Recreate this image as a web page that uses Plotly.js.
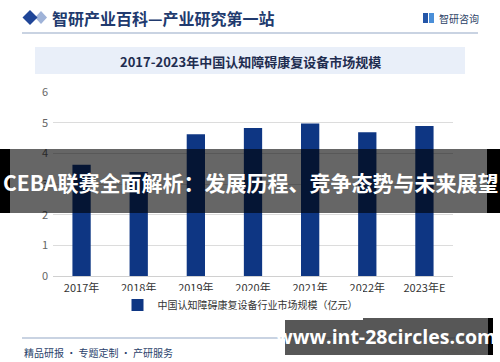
<!DOCTYPE html>
<html>
<head>
<meta charset="utf-8">
<script src="https://cdn.plot.ly/plotly-3.0.1.min.js"></script>
<style>
html,body{margin:0;padding:0;background:#fff;}
#chart{width:500px;height:362px;}
</style>
</head>
<body>
<div id="chart"></div>
<script>
const categories = ["2017年","2018年","2019年","2020年","2021年","2022年","2023年E"];
const marketSize = [3.63, 3.39, 4.62, 4.83, 4.97, 4.69, 4.89];
const seriesName = "中国认知障碍康复设备行业市场规模（亿元）";
const chartTitle = "2017-2023年中国认知障碍康复设备市场规模";
const headerText = "智研产业百科—产业研究第一站";
const logoText = "智研咨询";
const footerText = "精品研报 · 专题定制 · 产研服务";
const bannerText = "CEBA联赛全面解析：发展历程、竞争态势与未来展望";
const overlayText = "www.int-28circles.com";
const siteText = "www.chyxx.com";

const W = 500, H = 362;
const M = {l: 53, r: 47, t: 92, b: 86};
const PW = W - M.l - M.r, PH = H - M.t - M.b;
const px = x => (x - M.l) / PW;
const py = y => (H - M.b - y) / PH;
const CJK = '"Noto Sans CJK SC", "Noto Sans", sans-serif';

function rect(x0, y0, x1, y1, fill, layer) {
  return {type: 'rect', xref: 'paper', yref: 'paper', x0: px(x0), x1: px(x1), y0: py(y1), y1: py(y0),
          fillcolor: fill, line: {width: 0}, layer: layer || 'above'};
}
function line(x0, y0, x1, y1, color, w) {
  return {type: 'line', xref: 'paper', yref: 'paper', x0: px(x0), x1: px(x1), y0: py(y0), y1: py(y1),
          line: {color: color, width: w}, layer: 'above'};
}
function poly(pts, fill) {
  const d = pts.map((p, i) => (i ? 'L' : 'M') + px(p[0]) + ',' + py(p[1])).join(' ') + ' Z';
  return {type: 'path', xref: 'paper', yref: 'paper', path: d, fillcolor: fill, line: {width: 0}, layer: 'above'};
}
function txt(x, y, text, size, color, anchor, bold, family) {
  return {xref: 'paper', yref: 'paper', x: px(x), y: py(y), text: bold ? '<b>' + text + '</b>' : text,
          showarrow: false, xanchor: anchor || 'center', yanchor: 'middle',
          font: {size: size, color: color, family: family || CJK}};
}

const shapes = [
  poly([[41, 11], [47, 17.5], [41, 24], [35, 17.5]], '#9fb3d8'),
  poly([[30, 10], [37.5, 17.5], [30, 25], [22.5, 17.5]], '#1f4597'),
  line(22, 33, 478, 33, '#b7c4d9', 1.5),
  rect(423, 13, 428, 23, '#2456a8'),
  rect(429, 13, 434, 23, '#4a8fd8'),
  rect(35, 47, 465, 74, '#e9eff9', 'below'),
  line(22, 338, 478, 338, '#b7c4d9', 1.5),
  rect(0, 149, 500, 213, 'rgba(0,0,0,0.6)'),
  rect(0, 149, 10, 213, '#000000'),
  rect(487, 149, 500, 213, '#000000'),
  rect(285, 318, 488, 355, 'rgba(40,40,40,0.78)'),
  rect(488, 318, 493, 355, '#000000')
];

const annotations = [
  txt(50, 18, headerText, 16, '#213a6e', 'left', true),
  txt(437, 18, logoText, 10, '#2b3f66', 'left', false),
  txt(250, 61, chartTitle, 13, '#1f2d50', 'center', true),
  txt(22, 352, footerText, 10, '#2a3f6b', 'left', false),
  txt(478, 351, siteText, 7, '#555555', 'right', false, '"DejaVu Serif", serif'),
  txt(250, 182, bannerText, 21, '#ffffff', 'center', true),
  txt(386, 336, overlayText, 19.5, '#ffffff', 'center', true, '"Open Sans", "Noto Sans", sans-serif')
];

const data = [{
  type: 'bar',
  x: categories,
  y: marketSize,
  name: seriesName,
  width: 0.32,
  marker: {color: '#0e3683'},
  showlegend: true
}];

const layout = {
  width: W, height: H,
  margin: M,
  paper_bgcolor: '#ffffff',
  plot_bgcolor: '#ffffff',
  showlegend: true,
  legend: {orientation: 'h', x: px(240), xanchor: 'center', y: py(305), yanchor: 'middle',
           font: {size: 10, color: '#333333', family: CJK}, itemwidth: 30},
  xaxis: {type: 'category', showgrid: false, showline: false, zeroline: false, ticks: '',
          tickfont: {size: 11, color: '#333333', family: CJK}, automargin: false, ticklabelstandoff: 4},
  yaxis: {range: [0, 6], dtick: 1, showgrid: true, gridcolor: '#dcdcdc', gridwidth: 1,
          zeroline: true, zerolinecolor: '#d0d0d0', showline: false, ticks: '',
          tickfont: {size: 11, color: '#666666', family: CJK}, automargin: false, ticklabelstandoff: 4},
  shapes: shapes,
  annotations: annotations,
  hovermode: false
};

Plotly.newPlot('chart', data, layout, {displayModeBar: false, staticPlot: true});
</script>
</body>
</html>
